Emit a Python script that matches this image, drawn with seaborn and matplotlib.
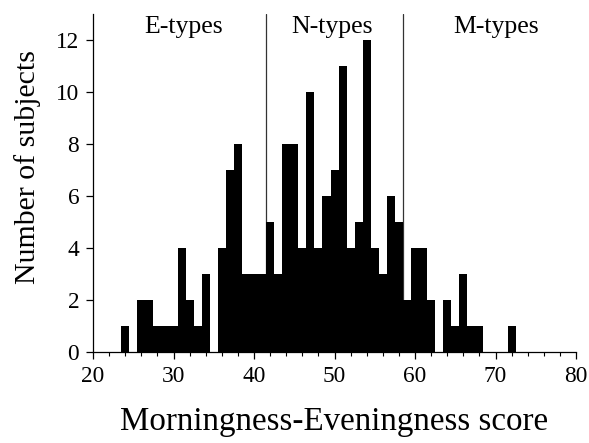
import numpy as np
import pandas as pd
import matplotlib
matplotlib.use("Agg")
import matplotlib.pyplot as plt
from matplotlib.ticker import MultipleLocator
import seaborn as sns

# Data (score bins of width 1, centred on integers)
scores = list(range(24, 73))
counts = [1, 0, 2, 2, 1, 1, 1, 4, 2, 1, 3, 0, 4, 7, 8, 3, 3, 3, 5, 3,
          8, 8, 4, 10, 4, 6, 7, 11, 4, 5, 12, 4, 3, 6, 5, 2, 4, 4, 2, 0,
          2, 1, 3, 1, 1, 0, 0, 0, 1]
type_labels = ["E-types", "N-types", "M-types"]
type_label_x = [31.2, 49.7, 70.1]
boundaries = [41.5, 58.5]

df = pd.DataFrame({"score": scores, "count": counts})

sns.set_style("ticks")
plt.rcParams["font.family"] = ["Liberation Serif", "DejaVu Serif"]
plt.rcParams["text.color"] = "black"
plt.rcParams["axes.labelcolor"] = "black"

fig = plt.figure(figsize=(5.89, 4.43), dpi=100)
ax = fig.add_axes([0.158, 0.2054, 0.82, 0.7625])

sns.histplot(data=df, x="score", weights="count", discrete=True,
             color="black", edgecolor="black", linewidth=0, alpha=1,
             ax=ax)

for b in boundaries:
    ax.axvline(b, color="#333333", lw=0.9, zorder=0.5)

for lab, xp in zip(type_labels, type_label_x):
    ax.text(xp, 12.27, lab, ha="center", va="baseline", fontsize=18.5,
            color="black")

ax.set_xlim(20, 80)
ax.set_ylim(0, 13)
ax.xaxis.set_major_locator(MultipleLocator(10))
ax.xaxis.set_minor_locator(MultipleLocator(2))
ax.set_yticks([0, 2, 4, 6, 8, 10, 12])

sns.despine(ax=ax)
for s in ["left", "bottom"]:
    ax.spines[s].set_linewidth(0.9)
    ax.spines[s].set_color("black")

ax.tick_params(axis="both", which="major", direction="out", length=5,
               width=0.9, labelsize=16.8, colors="black", pad=5)
ax.tick_params(axis="x", which="minor", direction="out", length=3, width=0.8,
               colors="black")

ax.set_xlabel("Morningness-Eveningness score", fontsize=23.8, labelpad=14)
ax.set_ylabel("Number of subjects", fontsize=21.5)
ax.yaxis.set_label_coords(-0.108, 0.547)

fig.savefig("out.png", dpi=100)
